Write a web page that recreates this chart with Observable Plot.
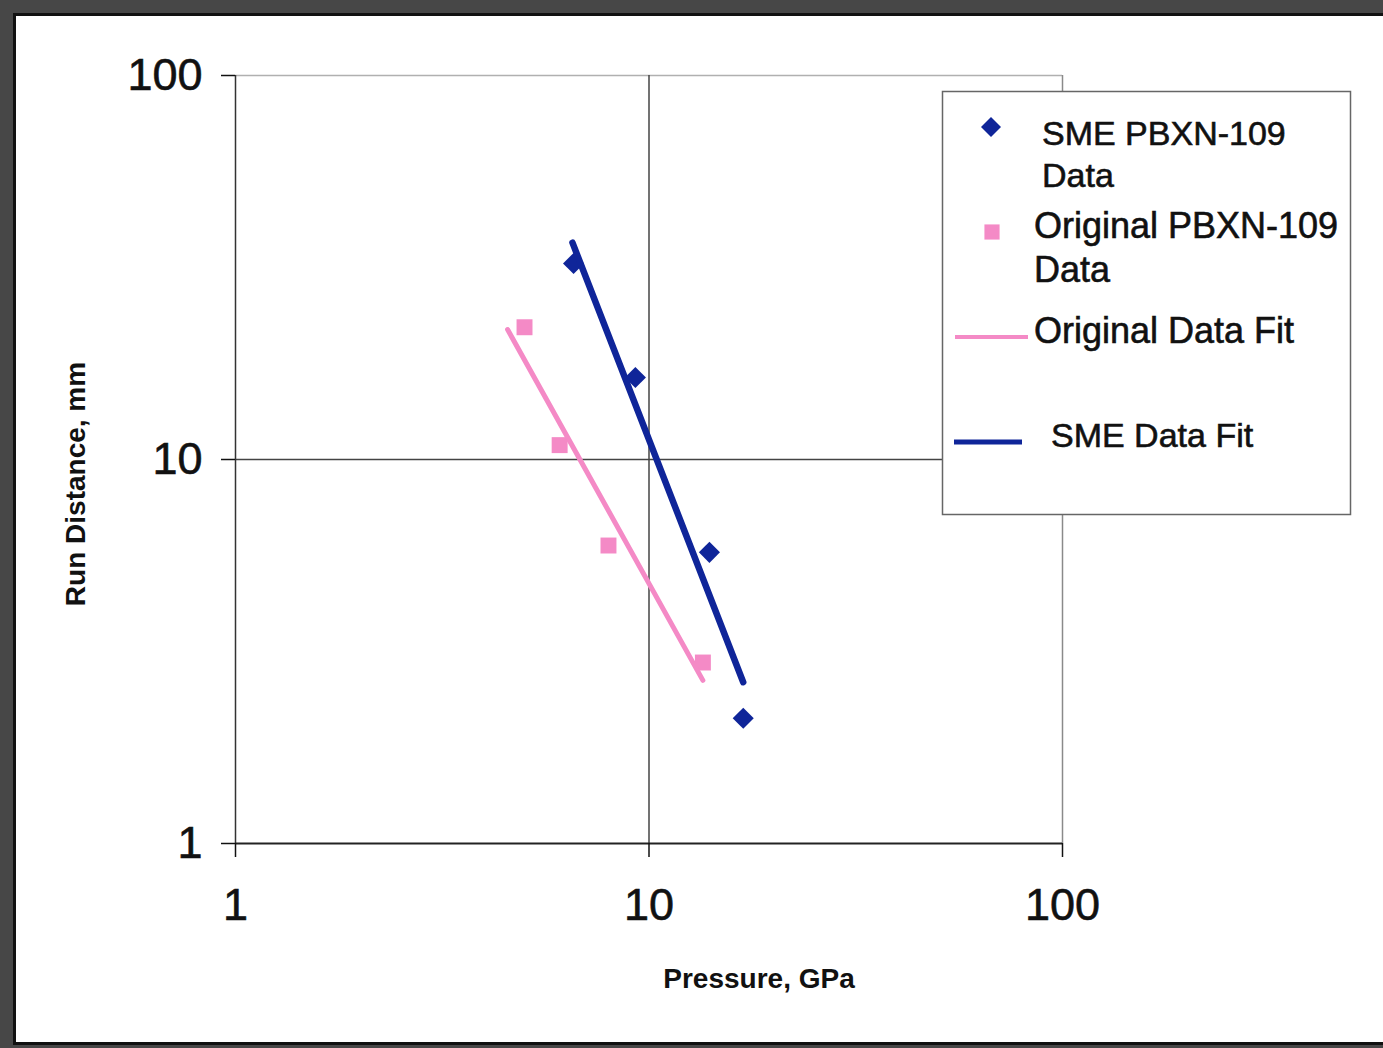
<!DOCTYPE html>
<html>
<head>
<meta charset="utf-8">
<script src="https://cdn.jsdelivr.net/npm/d3@7"></script>
<script src="https://cdn.jsdelivr.net/npm/@observablehq/plot@0.6"></script>
<style>
  html, body { margin: 0; padding: 0; width: 1383px; height: 1048px; overflow: hidden; background: #474747; }
  #frame { position: absolute; left: 13px; top: 13px; width: 1400px; height: 1026px; border: 3px solid #111; background: #fff; }
  #chart { position: absolute; left: 0; top: 0; }
  #overlay { position: absolute; left: 0; top: 0; pointer-events: none; }
  #chart svg g[aria-label$="tick label"] text { stroke: #111; stroke-width: 0.6px; paint-order: stroke; }
</style>
</head>
<body>
<div id="frame"></div>
<div id="chart"></div>
<svg id="overlay" width="1383" height="1048"></svg>
<script>
// ---- data ----
const smePressure = [6.57, 9.27, 14.0, 16.9];
const smeRun = [32.4, 16.35, 5.73, 2.12];
const origPressure = [5.0, 6.08, 7.98, 13.5];
const origRun = [22.1, 10.9, 5.97, 2.96];
const smeFitPressure = [6.53, 16.9];
const smeFitRun = [36.7, 2.63];
const origFitPressure = [4.55, 13.5];
const origFitRun = [21.8, 2.66];
const axisTicks = [1, 10, 100];
const xTitle = "Pressure, GPa";
const yTitle = "Run Distance, mm";
const legendLines = [
  ["SME PBXN-109", "Data"],
  ["Original PBXN-109", "Data"],
  ["Original Data Fit"],
  ["SME Data Fit"]
];

const BLUE = "#0f2599";
const PINK = "#f48ac6";

const sme = smePressure.map((p, i) => ({p, r: smeRun[i]}));
const orig = origPressure.map((p, i) => ({p, r: origRun[i]}));
const smeFit = smeFitPressure.map((p, i) => ({p, r: smeFitRun[i]}));
const origFit = origFitPressure.map((p, i) => ({p, r: origFitRun[i]}));

const chart = Plot.plot({
  width: 1383,
  height: 1048,
  marginLeft: 235,
  marginRight: 321,
  marginTop: 75,
  marginBottom: 205,
  style: {background: "transparent", fontFamily: "'Liberation Sans', Arial, sans-serif", color: "#111"},
  x: {type: "log", domain: [1, 100]},
  y: {type: "log", domain: [1, 100]},
  marks: [
    Plot.ruleY([100], {stroke: "#b0b0b0", strokeWidth: 1.5}),
    Plot.ruleX([100], {stroke: "#8a8a8a", strokeWidth: 1.5}),
    Plot.ruleX([10], {stroke: "#444", strokeWidth: 1.5}),
    Plot.ruleY([10], {stroke: "#444", strokeWidth: 1.5}),
    Plot.ruleX([1], {stroke: "#333", strokeWidth: 1.5}),
    Plot.ruleY([1], {stroke: "#222", strokeWidth: 2}),
    Plot.axisX({ticks: axisTicks, tickFormat: d => String(d), tickSize: 14, tickPadding: 31, fontSize: 45, label: null, strokeWidth: 1.5}),
    Plot.axisY({ticks: axisTicks, tickFormat: d => String(d), tickSize: 14, tickPadding: 19, fontSize: 45, label: null, strokeWidth: 1.5}),
    Plot.dot(orig, {x: "p", y: "r", symbol: "square", r: 9, fill: PINK, stroke: "none"}),
    Plot.dot(sme, {x: "p", y: "r", symbol: "diamond2", r: 9.5, fill: BLUE, stroke: "none"}),
    Plot.line(origFit, {x: "p", y: "r", stroke: PINK, strokeWidth: 5}),
    Plot.line(smeFit, {x: "p", y: "r", stroke: BLUE, strokeWidth: 6.5})
  ]
});
document.getElementById("chart").appendChild(chart);

// ---- axis titles and legend ----
const ov = d3.select("#overlay");
const font = "'Liberation Sans', Arial, sans-serif";
ov.append("text").attr("x", 759).attr("y", 988).attr("text-anchor", "middle")
  .attr("font-family", font).attr("font-weight", "bold").attr("font-size", 28).attr("fill", "#111").text(xTitle);
ov.append("text").attr("transform", "translate(85,484) rotate(-90)").attr("text-anchor", "middle")
  .attr("font-family", font).attr("font-weight", "bold").attr("font-size", 28).attr("fill", "#111").text(yTitle);

const lg = ov.append("g");
lg.append("rect").attr("x", 942.5).attr("y", 91.5).attr("width", 408).attr("height", 423)
  .attr("fill", "#fff").attr("stroke", "#666").attr("stroke-width", 1.5);
lg.append("path").attr("transform", "translate(991,127)").attr("d", d3.symbol(d3.symbolDiamond2, 255)()).attr("fill", BLUE);
lg.append("path").attr("transform", "translate(992,232)").attr("d", d3.symbol(d3.symbolSquare, 230)()).attr("fill", PINK);
lg.append("line").attr("x1", 955).attr("x2", 1028).attr("y1", 337).attr("y2", 337).attr("stroke", PINK).attr("stroke-width", 4);
lg.append("line").attr("x1", 954).attr("x2", 1022).attr("y1", 442).attr("y2", 442).attr("stroke", BLUE).attr("stroke-width", 5);

const legendText = [
  {x: 1042, ys: [145, 187], size: 34},
  {x: 1034, ys: [238, 282], size: 36},
  {x: 1034, ys: [343], size: 36},
  {x: 1051, ys: [447], size: 34}
];
legendLines.forEach((lines, i) => {
  lines.forEach((t, j) => {
    lg.append("text").attr("x", legendText[i].x).attr("y", legendText[i].ys[j])
      .attr("font-family", font).attr("font-size", legendText[i].size).attr("fill", "#111")
      .attr("stroke", "#111").attr("stroke-width", 0.6).attr("paint-order", "stroke").text(t);
  });
});
</script>
</body>
</html>
